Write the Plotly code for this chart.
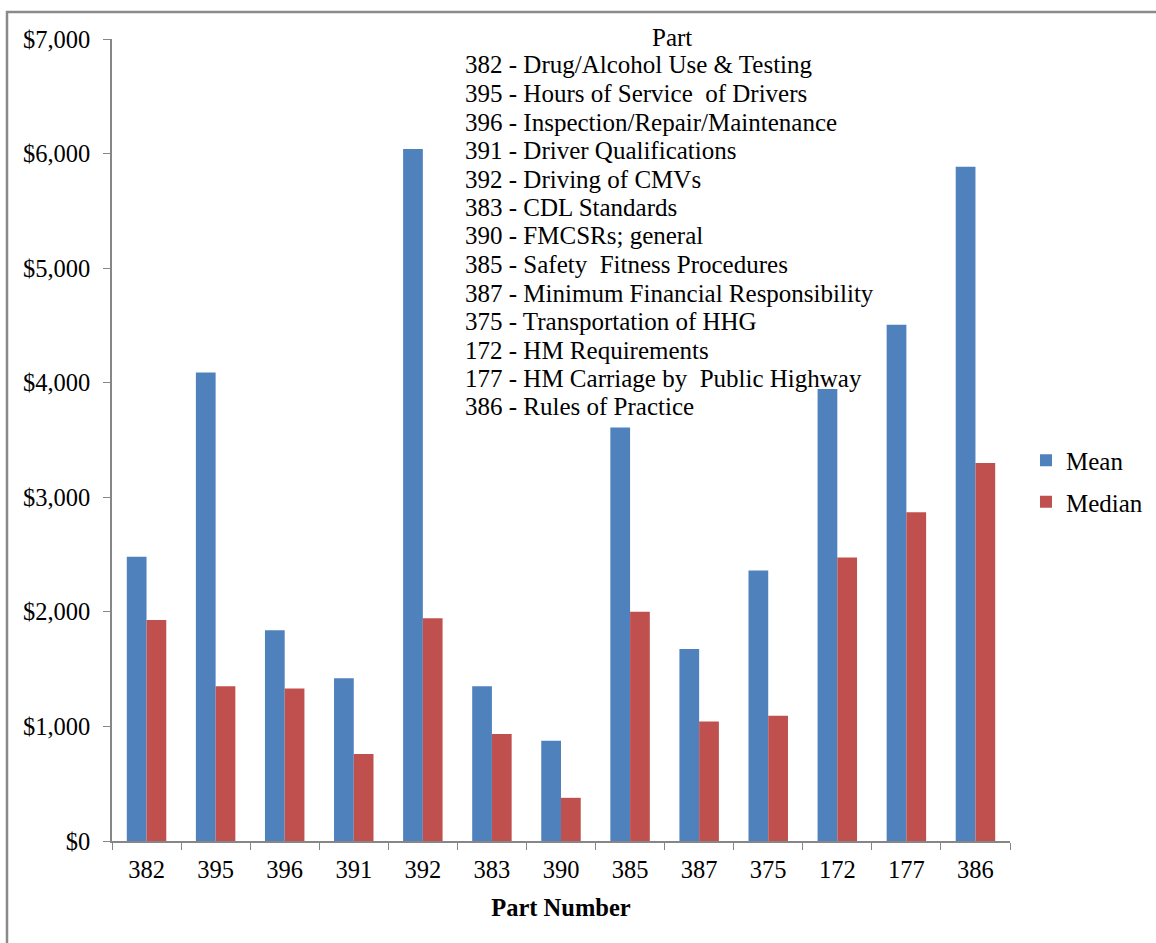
import plotly.graph_objects as go

parts = ["382", "395", "396", "391", "392", "383", "390", "385", "387", "375", "172", "177", "386"]
mean_vals = [2480, 4090, 1840, 1420, 6040, 1350, 875, 3610, 1675, 2360, 3945, 4505, 5885]
median_vals = [1930, 1350, 1330, 760, 1945, 935, 377, 2000, 1042, 1094, 2475, 2870, 3300]
part_names = [
    "382 - Drug/Alcohol Use & Testing",
    "395 - Hours of Service  of Drivers",
    "396 - Inspection/Repair/Maintenance",
    "391 - Driver Qualifications",
    "392 - Driving of CMVs",
    "383 - CDL Standards",
    "390 - FMCSRs; general",
    "385 - Safety  Fitness Procedures",
    "387 - Minimum Financial Responsibility",
    "375 - Transportation of HHG",
    "172 - HM Requirements",
    "177 - HM Carriage by  Public Highway",
    "386 - Rules of Practice",
]

FONT = "Liberation Serif, Times New Roman, serif"
W, H = 1156, 943
L, R, T, B = 112, 1010, 39, 841  # plot area in pixels


def px(x):
    return (x - L) / (R - L)


def py(y):
    return (B - y) / (B - T)


fig = go.Figure()
fig.add_trace(go.Bar(x=parts, y=mean_vals, name="Mean", marker_color="#4F81BD",
                     marker_line_width=0, legendgroup="a"))
fig.add_trace(go.Bar(x=parts, y=median_vals, name="Median", marker_color="#C0504D",
                     marker_line_width=0, legendgroup="b"))

annotations = [dict(text="Part", x=px(672), y=py(37), xref="paper", yref="paper",
                    showarrow=False, xanchor="center", yanchor="middle",
                    font=dict(family=FONT, size=25, color="black"))]
for i, name in enumerate(part_names):
    annotations.append(dict(text=name, x=px(463), y=py(65 + 28.5 * i), xref="paper", yref="paper",
                            showarrow=False, xanchor="left", yanchor="middle",
                            font=dict(family=FONT, size=25, color="black")))

fig.update_layout(
    width=W, height=H,
    margin=dict(l=L, r=W - R, t=T, b=H - B, autoexpand=False),
    paper_bgcolor="white", plot_bgcolor="white",
    barmode="group", bargap=0.4286, bargroupgap=0,
    font=dict(family=FONT, size=24.5, color="black"),
    showlegend=True,
    legend=dict(x=px(1026), y=py(481), xanchor="left", yanchor="middle",
                font=dict(family=FONT, size=25, color="black"),
                itemwidth=30,
                tracegroupgap=6, traceorder="grouped", bgcolor="rgba(0,0,0,0)"),
    annotations=annotations,
    shapes=[dict(type="rect", xref="paper", yref="paper",
                 x0=px(7), x1=px(1200), y0=py(1000), y1=py(12),
                 line=dict(color="#8a8a8a", width=2.5), fillcolor="rgba(0,0,0,0)", layer="below")],
)
fig.update_xaxes(
    type="category", showgrid=False, showline=True, linecolor="#868686", linewidth=1.5,
    ticks="outside", tickson="boundaries", ticklen=7, tickcolor="#868686",
    tickfont=dict(family=FONT, size=24.5, color="black"),
    ticklabelstandoff=6,
    title=dict(text="<b>Part Number</b>", font=dict(family=FONT, size=24.5, color="black"), standoff=17),
)
fig.update_yaxes(
    range=[0, 7000], dtick=1000, tickprefix="$", tickformat=",d",
    showgrid=False, zeroline=False, showline=True, linecolor="#868686", linewidth=1.5,
    ticks="outside", ticklen=7, tickcolor="#868686",
    tickfont=dict(family=FONT, size=24.5, color="black"),
    ticklabelstandoff=8,
)

fig.write_html("out.html", config={"displayModeBar": False},
               post_script="document.body.style.margin='0';document.body.style.overflow='hidden';")
